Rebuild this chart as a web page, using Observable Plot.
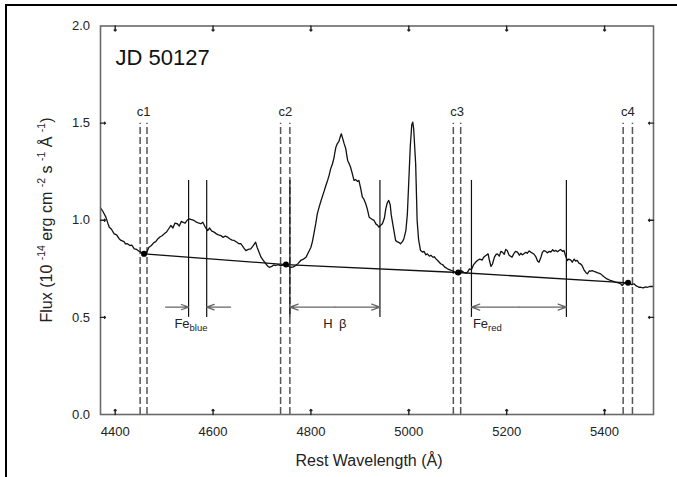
<!DOCTYPE html>
<html><head><meta charset="utf-8">
<script src="https://cdn.jsdelivr.net/npm/d3@7"></script>
<script src="https://cdn.jsdelivr.net/npm/@observablehq/plot@0.6"></script>
<style>
body{margin:0;background:#fff;}
#wrap{position:relative;width:677px;height:477px;overflow:hidden;background:#fff;}
#border{position:absolute;left:5px;top:4px;width:720px;height:520px;border-left:2px solid #000;border-top:2px solid #000;pointer-events:none;}
</style></head><body><div id="wrap"></div>
<script>
// ---- data ----
const xTicks = [4400, 4600, 4800, 5000, 5200, 5400];
const yTicks = [0, 0.5, 1.0, 1.5, 2.0];
const wavelength = [4370,4375,4381,4385,4388,4392,4398,4403,4408,4412,4418,4421,4425,4430,4434,4439,4444,4448,4452,4456,4460,4465,4469,4474,4479,4483,4487,4492,4496,4500,4505,4509,4514,4518,4522,4527,4531,4535,4538,4543,4547,4551,4556,4561,4565,4570,4575,4579,4584,4589,4593,4597,4602,4607,4611,4616,4620,4625,4630,4634,4639,4643,4648,4652,4657,4662,4667,4672,4677,4681,4687,4690,4694,4698,4703,4708,4712,4715,4720,4724,4728,4733,4738,4745,4750,4755,4759,4764,4769,4774,4779,4785,4790,4795,4800,4803,4806,4810,4813,4817,4820,4823,4827,4830,4834,4837,4840,4844,4847,4849,4851,4854,4857,4860,4862,4865,4868,4871,4875,4878,4881,4884,4888,4891,4895,4898,4902,4905,4908,4912,4915,4919,4922,4926,4929,4933,4936,4939,4943,4946,4950,4953,4956,4959,4962,4964,4966,4970,4973,4976,4980,4983,4987,4990,4994,4997,5000,5003,5006,5008,5010,5012,5014,5016,5017,5020,5024,5028,5031,5035,5038,5042,5045,5049,5052,5056,5060,5065,5069,5073,5079,5084,5089,5094,5097,5100,5104,5108,5112,5117,5120,5124,5128,5132,5137,5140,5145,5150,5153,5158,5162,5165,5168,5171,5175,5178,5181,5185,5188,5191,5195,5198,5201,5205,5208,5211,5215,5218,5222,5226,5229,5232,5235,5239,5242,5246,5249,5253,5256,5260,5263,5266,5270,5273,5276,5280,5283,5287,5290,5294,5297,5300,5304,5307,5310,5314,5317,5320,5324,5327,5331,5334,5338,5341,5344,5348,5351,5354,5358,5362,5365,5369,5372,5375,5380,5385,5392,5398,5405,5412,5418,5422,5428,5433,5436,5440,5444,5448,5452,5456,5460,5465,5470,5474,5479,5484,5488,5493,5499];
const flux = [1.064,1.045,1.016,0.985,0.964,0.955,0.930,0.925,0.905,0.896,0.890,0.878,0.879,0.870,0.872,0.853,0.850,0.842,0.836,0.832,0.826,0.838,0.861,0.870,0.885,0.890,0.904,0.915,0.920,0.930,0.940,0.955,0.973,0.960,0.985,0.982,0.970,0.994,0.990,0.985,1.000,1.007,1.003,0.999,0.992,0.986,0.982,0.990,0.965,0.947,0.960,0.945,0.939,0.930,0.925,0.921,0.912,0.918,0.913,0.905,0.898,0.896,0.888,0.880,0.879,0.860,0.844,0.850,0.853,0.866,0.887,0.861,0.835,0.810,0.792,0.776,0.763,0.758,0.762,0.770,0.767,0.772,0.765,0.772,0.768,0.762,0.758,0.760,0.767,0.778,0.793,0.800,0.810,0.835,0.861,0.890,0.930,0.985,1.033,1.070,1.095,1.119,1.150,1.175,1.205,1.230,1.262,1.291,1.320,1.350,1.376,1.395,1.405,1.430,1.445,1.420,1.393,1.370,1.308,1.292,1.273,1.245,1.205,1.210,1.200,1.205,1.160,1.119,1.110,1.085,1.060,1.016,1.010,1.003,0.999,0.980,0.975,0.964,0.975,0.982,1.010,1.060,1.090,1.102,1.080,1.030,0.999,0.940,0.896,0.890,0.885,0.879,0.890,0.905,0.947,1.030,1.205,1.380,1.490,1.505,1.470,1.380,1.291,1.100,0.999,0.900,0.844,0.836,0.840,0.822,0.827,0.815,0.820,0.810,0.812,0.800,0.790,0.776,0.772,0.760,0.750,0.745,0.740,0.733,0.722,0.738,0.730,0.740,0.732,0.728,0.733,0.750,0.745,0.770,0.785,0.793,0.800,0.795,0.810,0.820,0.827,0.790,0.762,0.775,0.810,0.823,0.827,0.815,0.840,0.836,0.825,0.850,0.844,0.820,0.815,0.810,0.830,0.840,0.836,0.820,0.830,0.822,0.827,0.835,0.830,0.842,0.836,0.830,0.825,0.810,0.790,0.784,0.810,0.835,0.844,0.840,0.832,0.840,0.836,0.848,0.840,0.845,0.838,0.844,0.850,0.840,0.844,0.820,0.793,0.800,0.795,0.784,0.800,0.790,0.793,0.778,0.775,0.767,0.745,0.730,0.724,0.740,0.738,0.741,0.735,0.730,0.724,0.710,0.698,0.690,0.685,0.681,0.678,0.673,0.664,0.675,0.680,0.678,0.675,0.668,0.673,0.662,0.655,0.655,0.652,0.657,0.655,0.660,0.659];

const contNames = ["c1", "c2", "c3", "c4"];
const contLeft  = [4451, 4738, 5091, 5438];
const contRight = [4465, 4757, 5106, 5457];
const contWave  = [4459, 4749, 5101, 5448];
const contFlux  = [0.827, 0.772, 0.731, 0.678];

const winNames = ["Fe", "H\u2002\u03b2", "Fe"];
const winSubs  = ["blue", "", "red"];
const winLeft  = [4550, 4757, 5128];
const winRight = [4587, 4941, 5322];
const winLabelX = [4552, 4849, 5162];

const title = "JD 50127";
const xLabel = "Rest Wavelength (\u00c5)";

// ---- tables ----
const spectrum = wavelength.map((w, i) => ({w, f: flux[i]}));
const cont = contWave.map((w, i) => ({w, f: contFlux[i]}));
const cLines = contLeft.concat(contRight);
const cLabels = contNames.map((n, i) => ({n, x: (contLeft[i] + contRight[i]) / 2}));
const wLines = winLeft.concat(winRight);
// Fe blue: arrows from outside pointing in; Hbeta & Fe red: double-headed (from centre outward)
const arrows = [
  {x1: 4503, x2: winLeft[0]},
  {x1: 4636, x2: winRight[0]},
  {x1: (winLeft[1] + winRight[1]) / 2, x2: winLeft[1]},
  {x1: (winLeft[1] + winRight[1]) / 2, x2: winRight[1]},
  {x1: (winLeft[2] + winRight[2]) / 2, x2: winLeft[2]},
  {x1: (winLeft[2] + winRight[2]) / 2, x2: winRight[2]}
];
const wLabels = winNames.map((n, i) => ({n, s: winSubs[i], x: winLabelX[i]}));
const subLabels = wLabels.filter(d => d.s);
const plainLabels = wLabels.filter(d => !d.s);

const xDom = [4370, 5500], yDom = [0, 2];
const tickCol = "#222", frameCol = "#6a6a6a";

const plot = Plot.plot({
  width: 677, height: 477,
  marginLeft: 100, marginRight: 24, marginTop: 25.5, marginBottom: 63,
  style: {fontFamily: "'Liberation Sans', Arial, sans-serif", background: "transparent", color: "#222"},
  x: {domain: xDom},
  y: {domain: yDom},
  marks: [
    Plot.ruleX(cLines, {x: d => d, y1: 0, y2: 1.5, stroke: "#555", strokeWidth: 1.5, strokeDasharray: "7,3"}),
    Plot.ruleX(wLines, {x: d => d, y1: 0.5, y2: 1.205, stroke: "#111", strokeWidth: 1.2}),
    Plot.arrow(arrows, {x1: "x1", x2: "x2", y1: 0.553, y2: 0.553, stroke: "#666", strokeWidth: 1.2, headAngle: 40, headLength: 11}),
    Plot.line(cont, {x: "w", y: "f", stroke: "#111", strokeWidth: 1.3}),
    Plot.line(spectrum, {x: "w", y: "f", stroke: "#111", strokeWidth: 1.3}),
    Plot.dot(cont, {x: "w", y: "f", r: 3, fill: "#000"}),
    Plot.text(cLabels, {x: "x", y: 1.556, text: "n", fontSize: 13, fill: "#222"}),
    Plot.text(subLabels, {x: "x", y: 0.465, text: "n", textAnchor: "end", fontSize: 13, fill: "#222"}),
    Plot.text(subLabels, {x: "x", y: 0.465, text: "s", textAnchor: "start", dy: 4, fontSize: 9.5, fill: "#222"}),
    Plot.text(plainLabels, {x: "x", y: 0.465, text: "n", textAnchor: "middle", fontSize: 13, fill: "#222"}),
    Plot.text([title], {frameAnchor: "top-left", dx: 15, dy: 23.5, lineAnchor: "top", textAnchor: "start", fontSize: 22, fill: "#111"}),
    Plot.text([xLabel], {frameAnchor: "bottom", dx: -8, dy: 51, fontSize: 16, fill: "#222"}),
    Plot.frame({stroke: frameCol, strokeWidth: 1.6}),
    Plot.vector(xTicks, {x: d => d, y: yDom[0], length: 5, rotate: 0, anchor: "start", stroke: tickCol, strokeWidth: 1.4}),
    Plot.vector(xTicks, {x: d => d, y: yDom[1], length: 5, rotate: 180, anchor: "start", stroke: tickCol, strokeWidth: 1.4}),
    Plot.vector(yTicks.slice(1, -1), {x: xDom[0], y: d => d, length: 5, rotate: 90, anchor: "start", stroke: tickCol, strokeWidth: 1.4}),
    Plot.vector(yTicks.slice(1, -1), {x: xDom[1], y: d => d, length: 5, rotate: -90, anchor: "start", stroke: tickCol, strokeWidth: 1.4}),
    Plot.axisX(xTicks, {tickSize: 0, tickPadding: 12, fontSize: 13, tickFormat: d3.format("d"), label: null}),
    Plot.axisY(yTicks, {tickSize: 0, tickPadding: 10.5, fontSize: 13, tickFormat: d3.format(".1f"), label: null})
  ]
});

// y-axis label with superscripts
const svg = d3.select(plot);
const yl = svg.append("text")
  .attr("transform", "translate(52,220) rotate(-90)")
  .attr("text-anchor", "middle")
  .attr("fill", "#222")
  .style("font-size", "16px");
const parts = [["Flux (10 ", false], ["-14", true], [" erg cm ", false], ["-2", true], [" s ", false], ["-1", true], [" \u00c5 ", false], ["-1", true], [")", false]];
let up = false;
for (const [t, sup] of parts) {
  const ts = yl.append("tspan").text(t);
  if (sup && !up) { ts.attr("dy", -7).style("font-size", "10.5px"); up = true; }
  else if (!sup && up) { ts.attr("dy", 7); up = false; }
}

const wrap = document.getElementById("wrap");
wrap.appendChild(plot);
const b = document.createElement("div"); b.id = "border"; wrap.appendChild(b);
</script>
</body></html>
